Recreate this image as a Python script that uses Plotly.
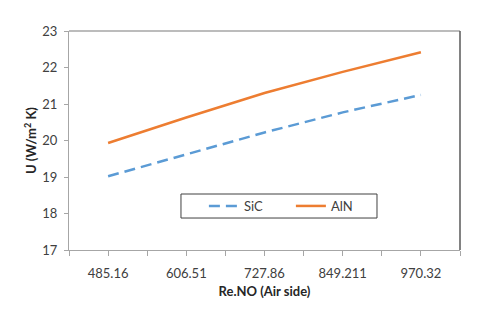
import plotly.graph_objects as go

categories = ["485.16", "606.51", "727.86", "849.211", "970.32"]
sic = [19.02, 19.62, 20.22, 20.77, 21.25]
aln = [19.93, 20.63, 21.30, 21.88, 22.42]

font_family = "Lato, 'Open Sans', sans-serif"
xpos = list(range(len(categories)))

fig = go.Figure()
fig.add_trace(go.Scatter(x=xpos, y=sic, name="SiC", mode="lines",
                         line=dict(color="#5B9BD5", width=2.5, dash="11px,6px")))
fig.add_trace(go.Scatter(x=xpos, y=aln, name="AlN", mode="lines",
                         line=dict(color="#ED7D31", width=2.5)))

fig.update_layout(
    width=480, height=309,
    margin=dict(l=69, r=20, t=31, b=59),
    paper_bgcolor="white", plot_bgcolor="white",
    font=dict(family=font_family, size=13, color="#404040"),
    showlegend=True,
    legend=dict(orientation="h", x=0.345, y=0.201, xanchor="left", yanchor="middle",
                borderwidth=0, bgcolor="rgba(0,0,0,0)",
                font=dict(size=13, color="#404040"), entrywidth=42,
                itemwidth=30),
    xaxis=dict(range=[-0.5, len(categories) - 0.5], tickmode="array",
               tickvals=xpos, ticktext=categories, showgrid=False,
               zeroline=False, showline=True, linecolor="#A6A6A6", linewidth=1,
               ticks="outside", ticklen=5, tickcolor="#A6A6A6", ticklabelstandoff=6,
               fixedrange=True,
               minor=dict(ticks="outside", tickvals=[i - 0.5 for i in range(len(categories) + 1)],
                          ticklen=5, tickcolor="#A6A6A6", tickwidth=1),
               title=dict(text="<b>Re.NO (Air side)</b>", font=dict(size=13, color="#262626"),
                          standoff=7)),
    yaxis=dict(range=[17, 23], dtick=1, showgrid=False, zeroline=False,
               showline=True, linecolor="#A6A6A6", linewidth=1, fixedrange=True,
               ticks="outside", ticklen=4, tickcolor="#A6A6A6", ticklabelstandoff=4,
               title=dict(text="<b>U (W/m<sup>2</sup> K)</b>", font=dict(size=13, color="#262626"),
                          standoff=2)),
    shapes=[
        dict(type="line", xref="paper", yref="paper", x0=0, x1=1, y0=1, y1=1,
             line=dict(color="#A6A6A6", width=1.5)),
        dict(type="line", xref="paper", yref="paper", x0=1, x1=1, y0=0, y1=1,
             line=dict(color="#595959", width=1.5)),
        dict(type="rect", xref="paper", yref="paper", x0=0.2864, x1=0.7877,
             y0=0.146, y1=0.2557, line=dict(color="#404040", width=1),
             fillcolor="rgba(0,0,0,0)", layer="above"),
    ],
)

fig.write_html("out.html", config={"displayModeBar": False},
               post_script="document.body.style.margin='0';")
